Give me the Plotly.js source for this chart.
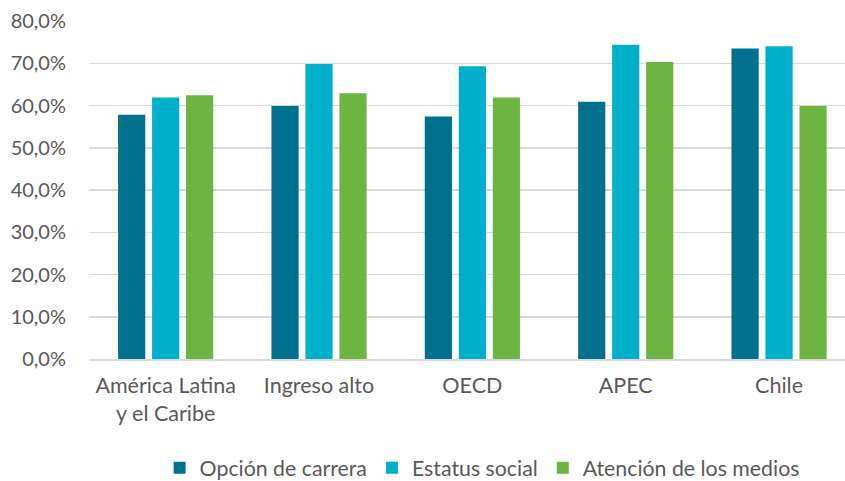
<!DOCTYPE html>
<html>
<head>
<meta charset="utf-8">
<script src="https://cdn.plot.ly/plotly-3.0.1.min.js"></script>
<style>html,body{margin:0;padding:0;background:#fff;}#chart{width:845px;height:481px;}</style>
</head>
<body>
<div id="chart"></div>
<script>
const categories = ["América Latina<br>y el Caribe", "Ingreso alto", "OECD", "APEC", "Chile"];
const seriesNames = ["Opción de carrera", "Estatus social", "Atención de los medios"];
const opcion = [57.8, 59.9, 57.4, 60.9, 73.5];
const estatus = [61.9, 69.8, 69.3, 74.4, 74.0];
const atencion = [62.4, 62.9, 61.9, 70.3, 59.9];
const yTicks = [0, 10, 20, 30, 40, 50, 60, 70, 80];

const colors = ["#00708f", "#00afcb", "#6cb543"];
const values = [opcion, estatus, atencion];
const idx = categories.map((c, i) => i);

const traces = values.map((v, k) => ({
  type: "bar",
  name: seriesNames[k],
  x: idx,
  y: v,
  marker: {color: colors[k], line: {width: 0}},
  hoverinfo: "y"
}));

const fam = "Lato, 'Open Sans', sans-serif";
const font = {family: fam, size: 20, color: "#595959"};
const xfont = {family: fam, size: 21.5, color: "#595959"};
const lfont = {family: fam, size: 21.3, color: "#595959"};

Plotly.newPlot("chart", traces, {
  width: 845, height: 481,
  margin: {l: 89, r: 0, t: 21, b: 122, autoexpand: false},
  paper_bgcolor: "#fff", plot_bgcolor: "#fff",
  font: font,
  separators: ", ",
  barmode: "group",
  bargap: 0.335,
  bargroupgap: 0.2,
  xaxis: {
    range: [-0.5, 4.43],
    tickmode: "array",
    tickvals: idx,
    ticktext: categories,
    showgrid: false,
    showline: true, linecolor: "#d9d9d9", linewidth: 1.5,
    ticks: "", zeroline: false,
    ticklabelstandoff: 7,
    fixedrange: true,
    automargin: false,
    tickfont: xfont
  },
  yaxis: {
    range: [0, 80],
    tickmode: "array",
    tickvals: yTicks,
    ticktext: yTicks.map(t => t.toFixed(1).replace(".", ",") + "%"),
    showgrid: true, gridcolor: "#d9d9d9", gridwidth: 1.5,
    zeroline: false, showline: false,
    ticks: "", ticklabelstandoff: 22,
    automargin: false,
    tickfont: font
  },
  legend: {
    orientation: "h",
    x: 0.52, xanchor: "center",
    yref: "container",
    y: 0.027, yanchor: "middle",
    font: lfont,
    itemwidth: 30,
    traceorder: "normal"
  },
  showlegend: true
}, {displayModeBar: false, staticPlot: true});
</script>
</body>
</html>
